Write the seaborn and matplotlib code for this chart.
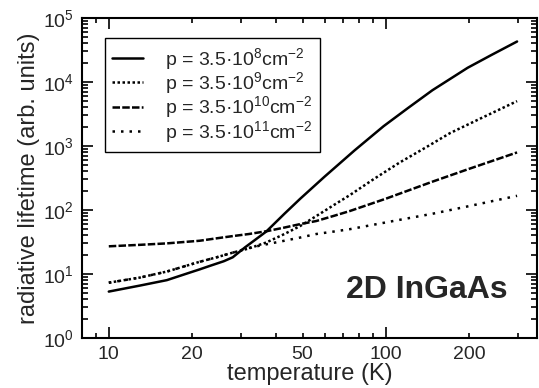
import numpy as np
import pandas as pd
import matplotlib
matplotlib.use("Agg")
import matplotlib.pyplot as plt
from matplotlib.ticker import FixedLocator, FuncFormatter, LogLocator, NullFormatter
import seaborn as sns

# ---- data ----
T_1 = [10, 13, 16.2, 20, 21.3, 23.2, 26, 28, 31, 34, 37, 43, 49, 60, 77, 98, 120, 147, 197, 240, 297]
tau_1 = [5.3, 6.6, 8.0, 10.8, 11.8, 13.4, 15.8, 18.2, 26, 35, 46, 87, 149, 330, 850, 2030, 3900, 7400, 16600, 26300, 42700]

T_2 = [10, 13, 16.2, 21.3, 24.5, 28, 32, 37, 43, 49, 56, 65, 74, 90, 112, 140, 170, 220, 297]
tau_2 = [7.3, 8.8, 10.9, 15.5, 18.2, 21.5, 25, 31, 42, 56, 80, 120, 170, 300, 550, 960, 1580, 2700, 5000]

T_3 = [10, 13, 16.2, 21.3, 24.5, 28, 32, 37.2, 43, 49, 56, 65, 74, 100, 147, 200, 297]
tau_3 = [27, 28.5, 30, 33, 36, 39, 42, 46.6, 53, 60, 67, 81, 96, 150, 276, 440, 790]

T_4 = [10, 13, 16.2, 21.3, 24.5, 28, 32, 37, 43, 49, 56, 65, 74, 90, 112, 147, 200, 297]
tau_4 = [7.3, 8.8, 10.9, 15.5, 18.2, 21.5, 25.5, 29, 33, 37, 42, 46, 50, 58.6, 70, 87, 115, 166]

labels = [
    "p = 3.5·10$^{8}$cm$^{-2}$",
    "p = 3.5·10$^{9}$cm$^{-2}$",
    "p = 3.5·10$^{10}$cm$^{-2}$",
    "p = 3.5·10$^{11}$cm$^{-2}$",
]
x_major = [10, 100]
x_minor = [8, 9, 20, 30, 40, 50, 60, 70, 80, 90, 200, 300]
x_minor_labeled = [20, 50, 200]

sns.set_style("ticks")
plt.rcParams["font.family"] = ["Liberation Sans", "DejaVu Sans"]
plt.rcParams["mathtext.fontset"] = "custom"
plt.rcParams["mathtext.rm"] = "Liberation Sans"
plt.rcParams["mathtext.it"] = "Liberation Sans:italic"
plt.rcParams["mathtext.bf"] = "Liberation Sans:bold"

fig = plt.figure(figsize=(5.39, 3.88), dpi=100)
ax = fig.add_axes([0.152, 0.129, 0.844, 0.825])

styles = ["-", (0, (1, 1)), (0, (3, 0.9)), (0, (1, 2.4))]
series = [(T_1, tau_1), (T_2, tau_2), (T_3, tau_3), (T_4, tau_4)]
for (T, tau), ls, lab in zip(series, styles, labels):
    df = pd.DataFrame({"T": T, "tau": tau})
    sns.lineplot(data=df, x="T", y="tau", ax=ax, color="black", linestyle=ls,
                 linewidth=1.8, label=lab, estimator=None, sort=True)

ax.set_xscale("log")
ax.set_yscale("log")
ax.set_xlim(8, 350)
ax.set_ylim(1, 1e5)

ax.xaxis.set_major_locator(FixedLocator(x_major))
ax.xaxis.set_major_formatter(FuncFormatter(lambda v, p: f"{v:g}"))
ax.xaxis.set_minor_locator(FixedLocator(x_minor))
ax.xaxis.set_minor_formatter(FuncFormatter(lambda v, p: f"{v:g}" if round(v) in x_minor_labeled else ""))
ax.yaxis.set_major_locator(LogLocator(base=10, numticks=10))
ax.yaxis.set_minor_locator(LogLocator(base=10, subs=np.arange(2, 10), numticks=20))
ax.yaxis.set_minor_formatter(NullFormatter())

ax.tick_params(which="both", direction="in", top=True, right=True, width=1.2, color="black",
               labelsize=14, pad=6)
ax.tick_params(axis="x", which="major", length=8)
ax.tick_params(axis="x", which="minor", length=3.5)
ax.tick_params(axis="y", which="major", length=8)
ax.tick_params(axis="y", which="minor", length=4.5)
for s in ax.spines.values():
    s.set_linewidth(1.5)
    s.set_color("black")

ax.set_xlabel("temperature (K)", fontsize=17, labelpad=0)
ax.set_ylabel("radiative lifetime (arb. units)", fontsize=17, labelpad=2)

ax.text(0.935, 0.125, "2D InGaAs", transform=ax.transAxes, ha="right", va="baseline",
        fontsize=23, fontweight="bold")

leg = ax.legend(loc="upper left", bbox_to_anchor=(0.05, 0.9375), borderaxespad=0,
                frameon=True, fancybox=False, framealpha=1, edgecolor="black",
                fontsize=14, handlelength=1.55, handletextpad=1.15, labelspacing=-0.08,
                borderpad=0.4)
leg.get_frame().set_linewidth(1.0)

fig.savefig("out.png", dpi=100)
